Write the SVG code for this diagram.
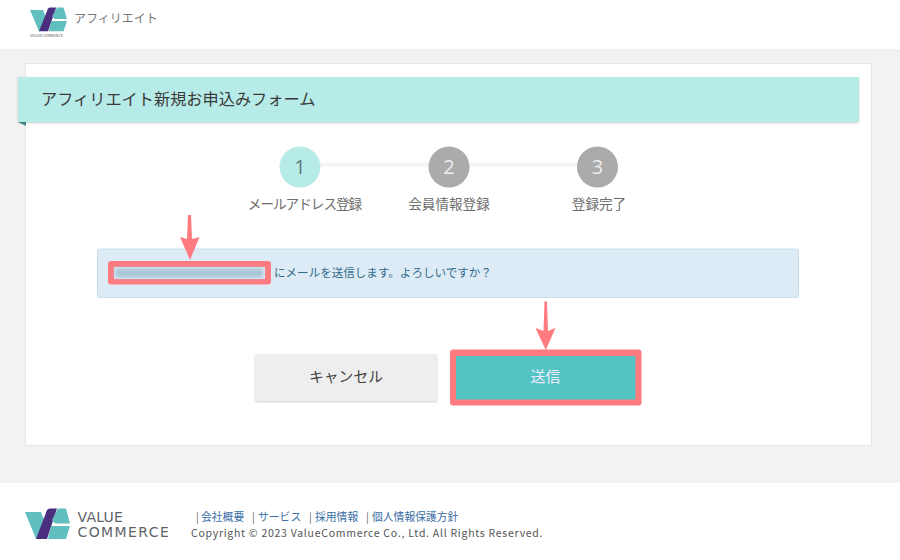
<svg xmlns="http://www.w3.org/2000/svg" width="900" height="560" viewBox="0 0 900 560">
<defs>
<style>
text{font-family:"Noto Sans CJK JP","Noto Sans","Liberation Sans",sans-serif}
.step{font-size:13.600px;fill:#6e6e6e;text-anchor:middle}
.num{font-size:20px;text-anchor:middle;font-family:"Open Sans","Noto Sans",sans-serif}
.link{font-size:10.800px;fill:#3a6ea5}
.bar{font-size:10.500px;fill:#666}
.brand{font-family:"DejaVu Sans",sans-serif;font-size:14px;fill:#5f6368}
.arrow{fill:#ff7b7f}
</style>
<filter id="blur" x="-10%" y="-50%" width="120%" height="200%"><feGaussianBlur stdDeviation="2"/></filter>
<filter id="sh" x="-5%" y="-20%" width="110%" height="140%"><feDropShadow dx="0" dy="1" stdDeviation="1.200" flood-color="#000" flood-opacity=".2"/></filter>
<g id="mark">
<path d="M0 4H16L21 17L13 31H11Z" fill="#62bfc0"/>
<path d="M22 2Q23 .5 25 .5H32L22 31H11Z" fill="#4c2e7e"/>
<path d="M33 .5H41L45 15.500H30L27 12Z" fill="#62bfc0"/>
<path d="M26 18H45L41 31H23Z" fill="#62bfc0"/>
</g>
</defs>
<rect width="900" height="560" fill="#f2f2f2"/>
<g id="header">
<rect width="900" height="50" fill="#fff"/>
<rect y="49.500" width="900" height="1" fill="#e8e8e8"/>
<use href="#mark" transform="translate(30 7) scale(.82 .78)"/>
<text x="30" y="37" font-size="3.800" letter-spacing=".1" font-family="Liberation Sans" fill="#555">VALUECOMMERCE</text>
<text x="74" y="23" font-size="12" fill="#777">アフィリエイト</text>
</g>
<g id="panel"><rect x="25.500" y="63.500" width="846" height="382" fill="#fff" stroke="#e6e6e6"/></g>
<g id="title">
<path d="M18 122H26V126Z" fill="#3f8f90"/>
<rect x="18" y="77" width="841" height="45" fill="#b7ebe7" filter="url(#sh)"/>
<text x="41" y="105" font-size="16.200" fill="#3a3a3a">アフィリエイト新規お申込みフォーム</text>
</g>
<g id="connectors">
<rect x="318" y="162.500" width="112" height="4" fill="#f4f4f4"/>
<rect x="467" y="162.500" width="112" height="4" fill="#f4f4f4"/>
</g>
<g id="step1"><circle cx="300" cy="167" r="20.500" fill="#b7ebe7"/><text class="num" x="300" y="174" fill="#5d7b7a">1</text><text class="step" x="304.500" y="209" letter-spacing="-1">メールアドレス登録</text></g>
<g id="step2"><circle cx="449" cy="167" r="20.500" fill="#ababab"/><text class="num" x="449" y="174" fill="#eee">2</text><text class="step" x="449" y="209">会員情報登録</text></g>
<g id="step3"><circle cx="597.500" cy="167" r="20.500" fill="#ababab"/><text class="num" x="597.500" y="174" fill="#eee">3</text><text class="step" x="599" y="209">登録完了</text></g>
<g id="notice">
<rect x="97.500" y="249" width="701" height="48.500" rx="2" fill="#dcebf5" stroke="#c8dcea"/>
<rect x="108" y="261" width="163" height="23.500" rx="3" fill="#ff7b7f"/>
<rect x="114" y="267" width="151" height="12" fill="#dcebf5"/>
<rect x="115" y="268.500" width="148" height="9" fill="#a5c4d6" filter="url(#blur)"/>
<text x="274" y="277" font-size="11.550" fill="#336b8c">にメールを送信します。よろしいですか？</text>
</g>
<g id="cancel">
<rect x="255" y="354" width="182" height="47" rx="2" fill="#eeeeee" filter="url(#sh)"/>
<text x="346" y="382" font-size="14.800" fill="#444" text-anchor="middle">キャンセル</text>
</g>
<g id="send">
<rect x="450" y="349.500" width="191.500" height="56" rx="3" fill="#ff7b7f"/>
<rect x="456" y="356" width="179.500" height="43.500" fill="#53c3c3"/>
<text x="545.500" y="382" font-size="15" fill="#eef" text-anchor="middle">送信</text>
</g>
<g id="arrows">
<path class="arrow" d="M188 215H191L192 239L199.500 237L190 260L180 237L187 239Z"/>
<path class="arrow" d="M544.500 301.500H547L548 331L555.500 328L545.800 350L535.500 328L543.500 331Z"/>
</g>
<g id="footer">
<rect y="483" width="900" height="77" fill="#fff"/>
<use href="#mark" transform="translate(25 508)"/>
<text class="brand" x="77.500" y="522" letter-spacing=".2">VALUE</text>
<text class="brand" x="77.500" y="536.500" letter-spacing="1.400">COMMERCE</text>
<text x="196" y="521" class="bar">|</text><text x="201" y="521" class="link">会社概要</text>
<text x="252" y="521" class="bar">|</text><text x="258" y="521" class="link">サービス</text>
<text x="309" y="521" class="bar">|</text><text x="315" y="521" class="link">採用情報</text>
<text x="366" y="521" class="bar">|</text><text x="372" y="521" class="link">個人情報保護方針</text>
<text x="191" y="537" font-size="10.500" letter-spacing=".73" font-family="DejaVu Sans" fill="#555">Copyright © 2023 ValueCommerce Co., Ltd. All Rights Reserved.</text>
</g>
</svg>
